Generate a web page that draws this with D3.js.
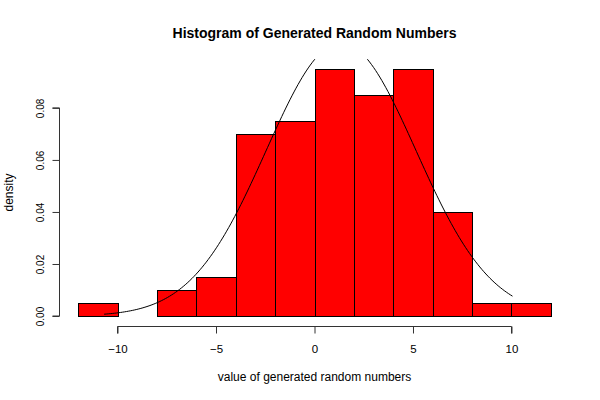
<!DOCTYPE html>
<html><head><meta charset="utf-8">
<script src="https://cdn.jsdelivr.net/npm/d3@7"></script>
<style>body{margin:0;background:#fff}svg{display:block}text{font-family:"Liberation Sans",Arial,sans-serif}</style>
</head><body><svg id="c" width="600" height="400"></svg>
<script>
const binEdges = [-12,-10,-8,-6,-4,-2,0,2,4,6,8,10,12];
const densities = [0.005,0,0.01,0.015,0.07,0.075,0.095,0.085,0.095,0.04,0.005,0.005];
const xTicks = [-10,-5,0,5,10];
const yTicks = [0,0.02,0.04,0.06,0.08];
const curveMean = 1.35, curveSd = 3.8, curveFrom = -10.68, curveTo = 10.05;
const titleText = "Histogram of Generated Random Numbers";
const xLabel = "value of generated random numbers";
const yLabel = "density";

const svg = d3.select("#c");
const x = d3.scaleLinear().domain([-12.96,12.96]).range([59.2,569.8]);
const y = d3.scaleLinear().domain([-0.0038,0.0988]).range([325.9,59]);

svg.append("defs").append("clipPath").attr("id","clip")
  .append("rect").attr("x",59).attr("y",59).attr("width",511).attr("height",267);

const bins = densities.map((d,i)=>({x0:binEdges[i],x1:binEdges[i+1],d}));
svg.append("g").selectAll("rect").data(bins).join("rect")
  .attr("x",b=>Math.round(x(b.x0))+0.5).attr("width",b=>Math.round(x(b.x1))-Math.round(x(b.x0)))
  .attr("y",b=>Math.round(y(b.d))+0.5).attr("height",b=>Math.round(y(0))-Math.round(y(b.d)))
  .attr("fill","#ff0000").attr("stroke","#000").attr("stroke-width",1);

const pts = d3.range(0,201).map(i=>{const xv=curveFrom+(curveTo-curveFrom)*i/200;
  return [xv, Math.exp(-((xv-curveMean)**2)/(2*curveSd*curveSd))/(curveSd*Math.sqrt(2*Math.PI))];});
svg.append("path").attr("clip-path","url(#clip)").attr("d",d3.line().x(p=>x(p[0])).y(p=>y(p[1]))(pts))
  .attr("fill","none").attr("stroke","#000").attr("stroke-width",1);

const xa = svg.append("g").attr("transform","translate(0,326.5)")
  .call(d3.axisBottom(x).tickValues(xTicks).tickSize(7).tickPadding(11).tickFormat(d=>d<0?"\u2212"+(-d):d));
xa.select(".domain").attr("d",`M${x(-10)},7V0H${x(10)}V7`).attr("stroke","#333");
xa.selectAll("text").attr("font-size",11.5).attr("fill","#000").attr("font-family","Liberation Sans, Arial, sans-serif");
xa.selectAll("line").attr("stroke","#333");

const ya = svg.append("g").attr("transform","translate(59.5,0)")
  .call(d3.axisLeft(y).tickValues(yTicks).tickSize(7).tickFormat(d3.format(".2f")));
ya.select(".domain").attr("d",`M-7,${y(0)}H0V${y(0.08)}H-7`).attr("stroke","#333");
ya.selectAll("line").attr("stroke","#333");
ya.selectAll("text").attr("font-size",10).attr("fill","#000").attr("font-family","Liberation Sans, Arial, sans-serif")
  .attr("text-anchor","middle").attr("x",0).attr("y",0).attr("dy",0)
  .attr("transform","translate(-16,0) rotate(-90)");

svg.append("text").attr("x",314.5).attr("y",37.7).attr("text-anchor","middle")
  .attr("font-size",14).attr("font-weight","bold").text(titleText);
svg.append("text").attr("x",314.5).attr("y",381).attr("text-anchor","middle")
  .attr("font-size",12).text(xLabel);
svg.append("text").attr("transform","translate(12.5,192.5) rotate(-90)").attr("text-anchor","middle")
  .attr("font-size",12).text(yLabel);
</script></body></html>
